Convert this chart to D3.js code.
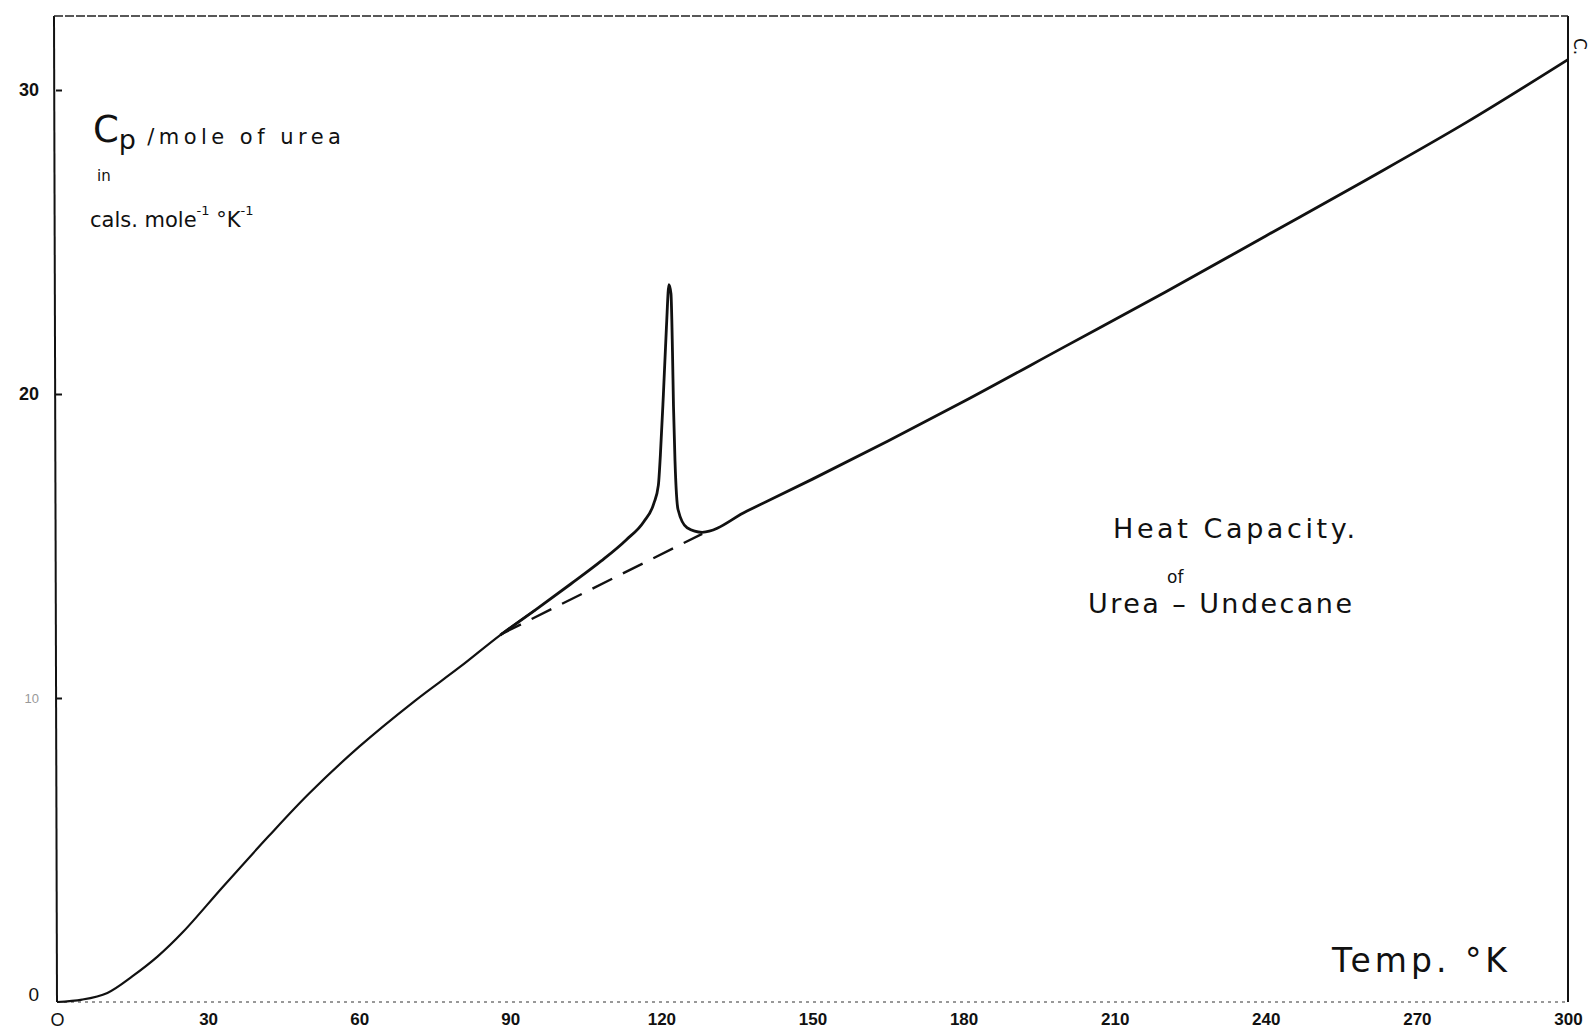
<!DOCTYPE html>
<html>
<head>
<meta charset="utf-8">
<script src="https://cdn.jsdelivr.net/npm/d3@7"></script>
<style>
  body { margin: 0; background: #fff; }
  svg { display: block; }
  .hand { font-family: "DejaVu Sans", sans-serif; fill: #111; }
  .tick text { font-family: "Liberation Sans Narrow", "Liberation Sans", sans-serif; font-weight: bold; fill: #111; }
</style>
</head>
<body>
<div id="chart"></div>
<script>
// readings (T in K, Cp in cal/mole/K)
var temps = [0, 5, 10, 15, 20, 25, 33, 42, 50, 60, 71, 80, 88, 95, 102, 108, 113, 116.5, 118.5,
             119.4, 119.8, 120.4, 121, 121.5, 121.9, 122.2, 122.4, 122.7, 123.3, 125.1, 128.1, 137,
             150, 165, 180, 200, 220, 240, 260, 280, 300];
var cpValues = [0, 0.08, 0.3, 0.85, 1.5, 2.3, 3.8, 5.45, 6.85, 8.4, 9.9, 11.02, 12.07, 12.9, 13.75, 14.5, 15.2, 15.8, 16.4,
                17.0, 18.0, 20.0, 22.2, 23.6, 23.3, 21.4, 19.6, 17.8, 16.2, 15.6, 15.45, 16.15,
                17.2, 18.45, 19.75, 21.55, 23.35, 25.2, 27.05, 28.95, 31.0];

// dashed baseline under the transition
var baseTemps = [88.2, 128.1];
var baseCp = [12.1, 15.4];

var xTicks = [0, 30, 60, 90, 120, 150, 180, 210, 240, 270, 300];
var yTicks = [0, 10, 20, 30];

var width = 1594, height = 1031;
var frameLeft = 54, frameTop = 16, frameRight = 1568, frameBottom = 1002;

var svg = d3.select("#chart").append("svg")
    .attr("width", width)
    .attr("height", height);

var x = d3.scaleLinear().domain([0, 300]).range([57, frameRight]);
var y = d3.scaleLinear().domain([0, 30]).range([frameBottom, 90]);

// frame: solid left and right, broken top and bottom
svg.append("line")
    .attr("x1", frameLeft).attr("y1", frameTop).attr("x2", 57).attr("y2", frameBottom)
    .attr("stroke", "#111").attr("stroke-width", 2);
svg.append("line")
    .attr("x1", frameRight).attr("y1", frameTop).attr("x2", frameRight).attr("y2", frameBottom)
    .attr("stroke", "#111").attr("stroke-width", 2);
svg.append("line")
    .attr("x1", frameLeft).attr("y1", frameTop).attr("x2", frameRight).attr("y2", frameTop)
    .attr("stroke", "#222").attr("stroke-width", 1.4)
    .style("stroke-dasharray", "9, 2");
svg.append("line")
    .attr("x1", 57).attr("y1", frameBottom).attr("x2", frameRight).attr("y2", frameBottom)
    .attr("stroke", "#333").attr("stroke-width", 1)
    .style("stroke-dasharray", "3, 4");

var bottomAxis = d3.axisBottom(x)
    .tickValues(xTicks)
    .tickSize(0)
    .tickPadding(11)
    .tickFormat(d => d === 0 ? "O" : d);

svg.append("g")
    .attr("transform", "translate(0," + frameBottom + ")")
    .call(bottomAxis)
    .call(g => g.select(".domain").remove())
    .selectAll("text")
    .style("font-size", "17px")
    .filter(d => d === 0)
    .style("font-size", "18px")
    .style("font-weight", "normal");

var leftAxis = d3.axisLeft(y)
    .tickValues(yTicks)
    .tickSizeInner(-6)
    .tickSizeOuter(0)
    .tickPadding(17);

var yAxisG = svg.append("g")
    .attr("transform", "translate(56,0)")
    .call(leftAxis)
    .call(g => g.select(".domain").remove());

yAxisG.selectAll("line").attr("stroke", "#111").attr("stroke-width", 2);
yAxisG.selectAll("text").style("font-size", "18px");
yAxisG.selectAll(".tick").filter(d => d === 10).select("text")
    .style("fill", "#999").style("font-size", "13px").style("font-weight", "normal");
yAxisG.selectAll(".tick").filter(d => d === 0).select("text")
    .attr("dy", "-0.1em").style("font-size", "19px").style("font-weight", "normal");
yAxisG.selectAll(".tick").filter(d => d === 0).select("line").remove();

// curve: smooth low part, monotone through the spike
var points = temps.map((t, i) => ({t: t, cp: cpValues[i]}));

var lowLine = d3.line()
    .x(d => x(d.t))
    .y(d => y(d.cp))
    .curve(d3.curveCatmullRom.alpha(0.5));

var drawLine = d3.line()
    .x(d => x(d.t))
    .y(d => y(d.cp))
    .curve(d3.curveMonotoneX);

svg.append("path")
    .datum(points.filter(d => d.t <= 95))
    .attr("d", lowLine)
    .attr("fill", "none")
    .attr("stroke", "#111")
    .attr("stroke-width", 2.2);

svg.append("path")
    .datum(points.filter(d => d.t >= 88))
    .attr("d", drawLine)
    .attr("fill", "none")
    .attr("stroke", "#111")
    .attr("stroke-width", 2.8)
    .attr("stroke-linejoin", "round");

svg.append("path")
    .datum(baseTemps.map((t, i) => ({t: t, cp: baseCp[i]})))
    .attr("d", d3.line().x(d => x(d.t)).y(d => y(d.cp)))
    .attr("fill", "none")
    .attr("stroke", "#111")
    .attr("stroke-width", 2.4)
    .style("stroke-dasharray", "22, 12");

// y label, top left
var ylab = svg.append("text").attr("class", "hand").attr("x", 93).attr("y", 142);
ylab.append("tspan").text("C").style("font-size", "37px");
ylab.append("tspan").text("p").attr("dy", 7).style("font-size", "27px");
ylab.append("tspan").text(" /mole of urea").attr("dy", -5).style("font-size", "21px")
    .attr("textLength", 205).attr("lengthAdjust", "spacing");

svg.append("text").attr("class", "hand")
    .attr("x", 97).attr("y", 181)
    .style("font-size", "15px")
    .text("in");

var units = svg.append("text").attr("class", "hand").attr("x", 90).attr("y", 227).style("font-size", "21px");
units.append("tspan").text("cals. mole");
units.append("tspan").text("-1").attr("dy", -12).style("font-size", "13px");
units.append("tspan").text("  °K").attr("dy", 12);
units.append("tspan").text("-1").attr("dy", -12).style("font-size", "13px");

// title, right middle
svg.append("text").attr("class", "hand")
    .attr("x", 1113).attr("y", 538)
    .style("font-size", "27px")
    .attr("textLength", 242).attr("lengthAdjust", "spacing")
    .text("Heat  Capacity.");

svg.append("text").attr("class", "hand")
    .attr("x", 1167).attr("y", 583)
    .style("font-size", "17px")
    .text("of");

svg.append("text").attr("class", "hand")
    .attr("x", 1088).attr("y", 613)
    .style("font-size", "27px")
    .attr("textLength", 264).attr("lengthAdjust", "spacing")
    .text("Urea – Undecane");

// x label
svg.append("text").attr("class", "hand")
    .attr("x", 1332).attr("y", 972)
    .style("font-size", "33px")
    .attr("textLength", 175).attr("lengthAdjust", "spacing")
    .text("Temp.  °K");

// note beyond the right edge
svg.append("text").attr("class", "hand")
    .attr("transform", "translate(1574,38) rotate(90)")
    .style("font-size", "17px")
    .text("C.");
</script>
</body>
</html>
